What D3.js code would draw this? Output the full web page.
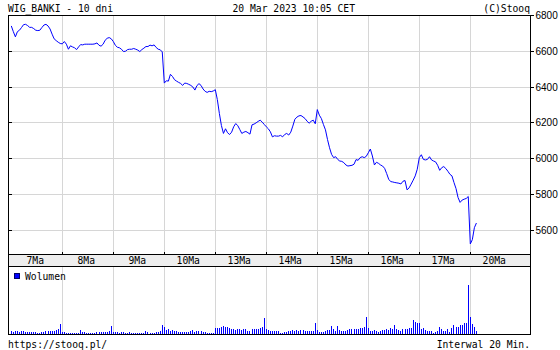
<!DOCTYPE html>
<html><head><meta charset="utf-8">
<script src="https://cdn.jsdelivr.net/npm/d3@7"></script>
<style>
body{margin:0;background:#fff}
svg{display:block}
.mono{font-family:"DejaVu Sans Mono",monospace;font-size:9.7px;fill:#000}
.ylab{font-family:"Liberation Sans",Arial,sans-serif;font-size:10px;fill:#000}
</style></head><body>
<svg id="c" width="560" height="350"></svg>
<script>
// ---- data ----
const dayLabels = ["7Ma","8Ma","9Ma","10Ma","13Ma","14Ma","15Ma","16Ma","17Ma","20Ma"];
const priceTicks = [5600,5800,6000,6200,6400,6600,6800];
const title = "WIG_BANKI - 10 dni";
const stamp = "20 Mar 2023 10:05 CET";

const price7  = [6739,6707,6678,6707,6715,6730,6746,6748,6741,6731,6731,6724,6715,6713,6715,6730,6744,6748,6739,6722,6693,6667,6657,6648,6641];
const price8  = [6639,6652,6637,6609,6628,6622,6617,6607,6622,6635,6633,6637,6637,6637,6637,6637,6639,6644,6631,6626,6637,6659,6670,6674,6667];
const price9  = [6652,6631,6620,6617,6609,6596,6598,6607,6609,6609,6613,6609,6604,6596,6607,6615,6624,6624,6632,6628,6633,6619,6609,6606,6594];
const price10 = [6420,6433,6431,6469,6457,6439,6431,6424,6418,6407,6420,6418,6413,6407,6398,6381,6406,6417,6407,6387,6374,6368,6374,6372,6376];
const price13 = [6383,6328,6250,6183,6139,6165,6143,6133,6146,6176,6194,6183,6161,6139,6146,6150,6143,6135,6187,6191,6198,6206,6213,6202,6189];
const price14 = [6176,6165,6148,6120,6126,6124,6124,6128,6120,6133,6139,6130,6146,6180,6218,6230,6237,6239,6231,6222,6207,6196,6207,6213,6193];
const price15 = [6272,6241,6222,6189,6159,6105,6059,6022,6004,6009,5994,5985,5983,5976,5963,5957,5959,5961,5967,5993,5989,6004,6009,6004,6011];
const price16 = [6031,6052,6013,5963,5978,5972,5963,5957,5944,5915,5883,5870,5868,5865,5863,5861,5857,5872,5876,5824,5835,5856,5878,5902,5939];
const price17 = [6004,6020,5994,5991,5994,6009,5991,5985,5980,5961,5933,5948,5954,5943,5928,5911,5902,5865,5831,5781,5754,5767,5772,5776,5787];
const price20 = [5522,5546,5613,5639];

const vol7  = [3,2.5,3.5,3,2.5,3,3,2.5,2.5,2,2.5,2,2,1.5,1.5,2.5,2.5,3,3,3,3.5,3.5,4.5,5,10];
const vol8  = [2,1.7,1.3,1.3,1.3,1,1,0.7,1.5,4.5,2,2,1,1,1,1.5,1.5,2,2,2,2,2.5,2.5,3.5,8.5];
const vol9  = [2.5,2,2,1.5,2,2,1,1,2,1.5,1.5,1.5,1.5,1.5,1,1,3,2,1.5,1.5,1.5,2,2,3,9];
const vol10 = [7,4,5,3,4,3,3,2.5,2.5,2.5,2.5,2.5,2.5,3,4,2.5,3,3,3,2.5,2.5,1.5,1,1,1.5];
const vol13 = [5.7,6,6,7,8,7.3,7,6.3,5,4.7,4.3,5,4.7,4,4.7,5.3,2.7,3.3,5.3,4.7,5.3,5.3,5.7,7,15.7];
const vol14 = [5,4,3.3,3.3,3,3,2.7,1,1.3,2,2.3,3,2.7,3.7,3.3,4,3.3,3.7,4,3.3,3,3,3.3,3.3,11.3];
const vol15 = [4,2.3,2,2.3,3,4,4,8,4.7,3.3,7.7,4,3.3,3.3,3.3,4,5,5,4.7,4.7,5,5.7,6,6.7,17.3];
const vol16 = [6,3.3,2.7,3.7,3.3,2.3,2.7,4,4.3,5,4,6,4.7,9,5.3,4,2.7,4.7,5.3,5.3,5.7,5.7,14,12,10.7];
const vol17 = [10.7,4.7,5.7,4,3.3,2.7,2.7,0.7,2,3.3,6.7,5.3,3.3,3.3,4.7,2.3,5.7,9,6.7,7.3,8.7,9,11.3,10.7,49];
const vol20 = [17.3,10,6.7,3.3];

const price = [].concat(price7,price8,price9,price10,price13,price14,price15,price16,price17,price20);
const volume = [].concat(vol7,vol8,vol9,vol10,vol13,vol14,vol15,vol16,vol17,vol20);

// ---- layout ----
const L = 8.5, R = 530.5, T = 15.5, B = 334.5;
const bandTop = 254.5, bandBot = 266.5;
const PER_DAY = 25;

const svg = d3.select("#c");
const x = d3.scaleLinear().domain([0, 250]).range([11.3, 11.3 + 2.04 * 250]);
const y = d3.scaleLinear().domain([5466, 6800]).range([254, 15]);
const vy = d3.scaleLinear().domain([0, 68]).range([334, 266]);

const px = v => Math.floor(v) + 0.5;
const py = v => Math.round(v) + 0.5;
const boundaries = d3.range(1, dayLabels.length).map(k => k * PER_DAY);

// gridlines
const grid = svg.append("g").attr("stroke", "#d6d6d6").attr("stroke-width", 1).attr("shape-rendering", "crispEdges");
grid.selectAll(".hg").data(priceTicks.filter(t => t < 6800)).join("line")
  .attr("x1", L).attr("x2", R).attr("y1", d => py(y(d))).attr("y2", d => py(y(d)));
grid.selectAll(".vg1").data(boundaries).join("line")
  .attr("x1", d => px(x(d))).attr("x2", d => px(x(d))).attr("y1", T).attr("y2", bandTop);
grid.selectAll(".vg2").data(boundaries).join("line")
  .attr("x1", d => px(x(d))).attr("x2", d => px(x(d))).attr("y1", bandBot).attr("y2", B);

// band
svg.append("rect").attr("x", L).attr("y", bandTop).attr("width", R - L).attr("height", bandBot - bandTop)
  .attr("fill", "#eeeeee").attr("stroke", "#000").attr("shape-rendering", "crispEdges");

// day labels
svg.append("g").selectAll("text").data(dayLabels).join("text")
  .attr("class", "mono").attr("text-anchor", "middle")
  .attr("x", (d, k) => x(k * PER_DAY + 12) - 0.5).attr("y", 263.5).text(d => d);

// ticks at day boundaries (above band)
const xTop = d3.axisTop(x).tickValues(boundaries).tickSize(3).tickFormat("");
const gx = svg.append("g").attr("transform", `translate(0.5,${bandTop})`).call(xTop);
gx.select(".domain").remove();
gx.selectAll("line").attr("shape-rendering", "crispEdges").attr("transform", function(){ return null; });
gx.selectAll(".tick").attr("transform", d => `translate(${Math.floor(x(d))},0)`);

// y axis right
const yr = d3.axisRight(y).tickValues(priceTicks).tickSize(3).tickPadding(2).tickFormat(d3.format("d"));
const gyr = svg.append("g").attr("transform", `translate(${R},0)`).call(yr);
gyr.select(".domain").remove();
gyr.selectAll(".tick").attr("transform", d => `translate(0,${py(y(d))})`);
gyr.selectAll("line").attr("shape-rendering", "crispEdges");
gyr.selectAll("text").attr("class", "ylab").attr("font-family", null).attr("font-size", null).attr("dy", "0.32em").attr("y", 0.5);

// y inner ticks left
const yl = d3.axisRight(y).tickValues(priceTicks).tickSize(3).tickFormat("");
const gyl = svg.append("g").attr("transform", `translate(${L},0)`).call(yl);
gyl.select(".domain").remove();
gyl.selectAll(".tick").attr("transform", d => `translate(0,${py(y(d))})`);
gyl.selectAll("line").attr("shape-rendering", "crispEdges");

// price line
svg.append("path").datum(price)
  .attr("fill", "none").attr("stroke", "#0000ff").attr("stroke-width", 1)
  .attr("d", d3.line().x((d, i) => x(i)).y(d => y(d)));

// volume bars
svg.append("g").attr("fill", "#0000ff").attr("shape-rendering", "crispEdges")
  .selectAll("rect").data(volume).join("rect")
  .attr("x", (d, i) => Math.floor(x(i))).attr("width", 1)
  .attr("y", d => vy(d)).attr("height", d => vy(0) - vy(d));

// frame
svg.append("rect").attr("x", L).attr("y", T).attr("width", R - L).attr("height", B - T)
  .attr("fill", "none").attr("stroke", "#000").attr("shape-rendering", "crispEdges");

// legend
svg.append("rect").attr("x", 14.5).attr("y", 273.5).attr("width", 5).attr("height", 5)
  .attr("fill", "#0000ff").attr("stroke", "#000066").attr("shape-rendering", "crispEdges");
svg.append("text").attr("class", "mono").attr("x", 25).attr("y", 279.5).text("Wolumen");

// header / footer
svg.append("text").attr("class", "mono").attr("x", 8).attr("y", 11.5).text(title);
svg.append("text").attr("class", "mono").attr("x", 232.5).attr("y", 11.5).text(stamp);
svg.append("text").attr("class", "mono").attr("x", 530).attr("y", 11.5).attr("text-anchor", "end").text("(C)Stooq");
svg.append("text").attr("class", "mono").attr("x", 8).attr("y", 347.5).text("https://stooq.pl/");
svg.append("text").attr("class", "mono").attr("x", 530).attr("y", 347.5).attr("text-anchor", "end").text("Interwal 20 Min.");
</script>
</body></html>
